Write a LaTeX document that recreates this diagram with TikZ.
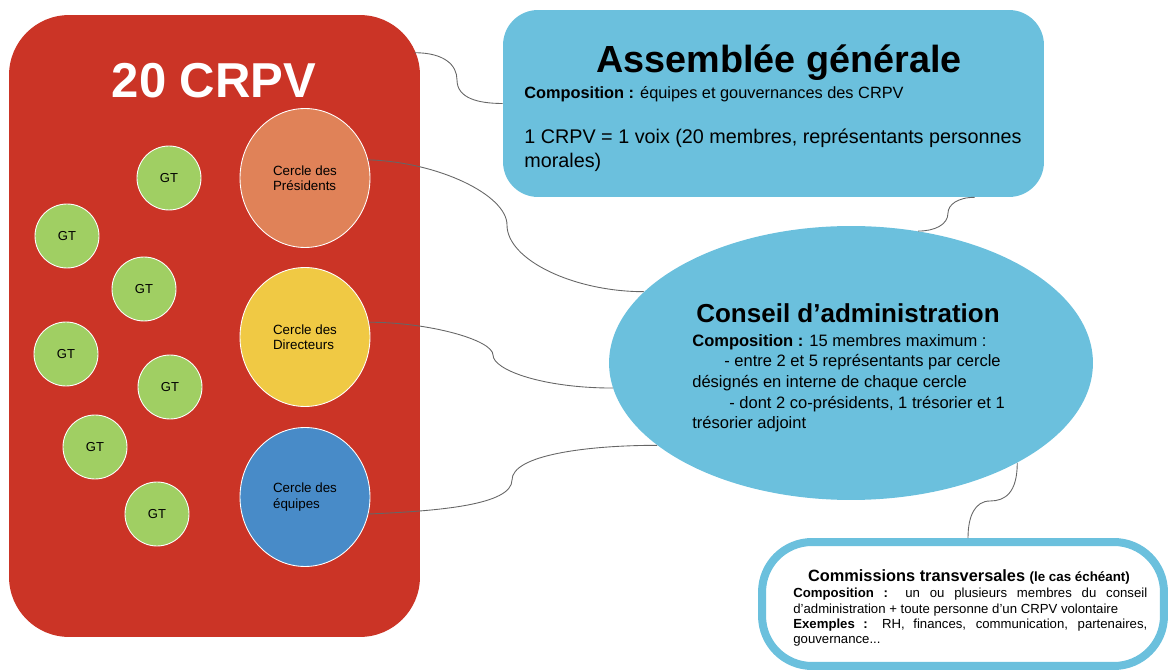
\documentclass[tikz,border=0pt]{standalone}
\usepackage{fontspec}
\setmainfont{Liberation Sans}
\usepackage{xcolor}
\usepackage{tikz}
\usetikzlibrary{calc}
\usetikzlibrary{shapes}
\usetikzlibrary{shapes.geometric}
\definecolor{rouge}{HTML}{CB3426}
\definecolor{vert}{HTML}{A0CF63}
\definecolor{orange}{HTML}{E08258}
\definecolor{jaune}{HTML}{F0C944}
\definecolor{bleu}{HTML}{488BC8}
\definecolor{ciel}{HTML}{6BC0DD}
\definecolor{gris}{HTML}{666666}
\tikzstyle{gt} = [circle, draw = white, line width = 0.5pt, fill = vert, minimum size = 1.28cm, inner sep = 0, font = \fontsize{7.4}{8.5}\selectfont]
\tikzstyle{cercle} = [ellipse, draw = white, line width = 0.5pt, minimum width = 2.6cm, minimum height = 2.78cm, inner sep = 0, align = left, font = \fontsize{7.6}{8.6}\selectfont]
\tikzstyle{lien} = [-, draw = gris, line width = 0.5pt]

\begin{document}
\begin{tikzpicture}[x = 0.02cm, y = -0.02cm]
\useasboundingbox (0, 0) rectangle (1169, 671);
\node [draw=none, fill = rouge, rounded corners = 1.2cm, minimum width = 8.22cm, minimum height = 12.44cm] (CRPV) at (214.5, 326) {};
\node [anchor = base, text = white, font = \fontsize{27.9}{30}\selectfont\bfseries, inner sep = 0] (T0) at (214, 98) {20 CRPV};
\node [gt] (GT1) at (169, 178) {GT};
\node [gt] (GT2) at (67, 236) {GT};
\node [gt] (GT3) at (144, 289) {GT};
\node [gt] (GT4) at (66, 354) {GT};
\node [gt] (GT5) at (170, 387) {GT};
\node [gt] (GT6) at (95, 447) {GT};
\node [gt] (GT7) at (157, 514) {GT};
\node [cercle, fill = orange] (C1) at (305, 178) {Cercle des\\Présidents};
\node [cercle, fill = jaune] (C2) at (305, 337) {Cercle des\\Directeurs};
\node [cercle, fill = bleu] (C3) at (305, 497) {Cercle des\\équipes};

\node [draw=none, fill = ciel, rounded corners = 0.7cm, minimum width = 10.82cm, minimum height = 3.74cm] (AG) at (773.5, 103.5) {};
\node [anchor = base, inner sep = 0, font = \fontsize{21.5}{24}\selectfont\bfseries] (T1) at (779, 73) {Assemblée générale};
\node [anchor = base west, inner sep = 0, font = \fontsize{9.3}{11}\selectfont] (T2) at (524, 99) {\textbf{Composition :} équipes et gouvernances des CRPV};
\node [anchor = base west, inner sep = 0, align = left, font = \fontsize{11.25}{13.7}\selectfont] (T3) at (524, 168) {1 CRPV = 1 voix (20 membres, représentants personnes\\morales)};

\node [ellipse, draw=none, fill = ciel, minimum width = 9.68cm, minimum height = 5.48cm] (CA) at (851, 363) {};
\node [anchor = base, inner sep = 0, font = \fontsize{14.8}{17}\selectfont\bfseries] (T4) at (848, 323) {Conseil d’administration};
\node [anchor = base west, inner sep = 0, align = left, font = \fontsize{9.4}{11.8}\selectfont] (T5) at (692, 429) {\textbf{Composition :} 15 membres maximum :\\\hspace*{0.64cm}- entre 2 et 5 représentants par cercle\\désignés en interne de chaque cercle\\\hspace*{0.74cm}- dont 2 co-présidents, 1 trésorier et 1\\trésorier adjoint};

\node [draw = ciel, line width = 0.16cm, fill = white, rounded corners = 1cm, minimum width = 8.04cm, minimum height = 2.48cm] (CT) at (963, 604) {};
\node [anchor = base, inner sep = 0] (T6) at (969, 582) {\fontsize{9.3}{11}\selectfont\bfseries Commissions transversales \fontsize{7.6}{9}\selectfont(le cas échéant)};
\node [anchor = base west, inner sep = 0, text width = 7.08cm, align = justify, font = \fontsize{7.5}{8.55}\selectfont] (T7) at (793, 598) {\textbf{Composition :} un ou plusieurs membres du conseil\linebreak d’administration + toute personne d’un CRPV volontaire\\\textbf{Exemples :} RH, finances, communication, partenaires,\linebreak gouvernance...};

\draw [lien] ($(CRPV.north east)+(-6, 38)$) .. controls +(30, 0) and +(0, -15) .. (457, 80) .. controls +(0, 18) and +(-25, 0) .. (AG.west);
\draw [lien] (C1.16) .. controls +(70, 2) and +(0, -30) .. (507, 225) .. controls +(0, 35) and +(-70, 0) .. (CA.161);
\draw [lien] (C2.13) .. controls +(60, 0) and +(0, -15) .. (493, 355) .. controls +(0, 15) and +(-70, 0) .. (CA.186);
\draw [lien] (C3.-15) .. controls +(70, -3) and +(0, 25) .. (512, 480) .. controls +(0, -25) and +(-70, 0) .. (CA.203);
\draw [lien] ($(AG.south)+(201, 0)$) .. controls +(-17, 0) and +(0, -8) .. (948, 213) .. controls +(0, 12) and +(16, 0) .. (CA.63);
\draw [lien] (CA.-31) .. controls +(0, 30) and +(15, 0) .. (990, 501) .. controls +(-15, 0) and +(0, -22) .. ($(CT.north)+(5, 0)$);
\end{tikzpicture}
\end{document}
